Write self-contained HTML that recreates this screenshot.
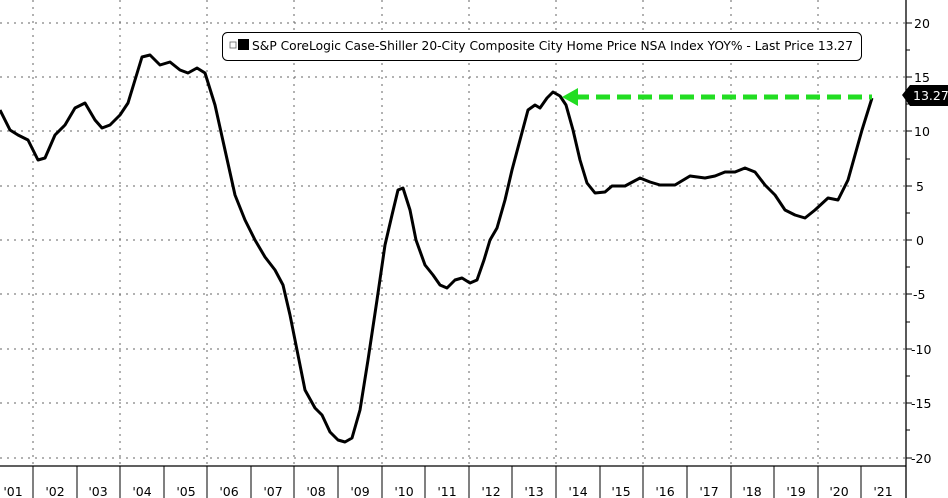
<!DOCTYPE html>
<html><head><meta charset="utf-8"><style>
html,body{margin:0;padding:0;background:#fff;width:948px;height:498px;overflow:hidden}
svg{display:block;font-family:"DejaVu Sans","Liberation Sans",sans-serif}
</style></head><body>
<svg width="948" height="498" viewBox="0 0 948 498" xmlns="http://www.w3.org/2000/svg">
<g stroke="#666" stroke-width="1" stroke-dasharray="2,5" fill="none">
<line x1="0" y1="23" x2="906" y2="23"/><line x1="0" y1="77" x2="906" y2="77"/>
<line x1="0" y1="131" x2="906" y2="131"/><line x1="0" y1="186" x2="906" y2="186"/>
<line x1="0" y1="240" x2="906" y2="240"/><line x1="0" y1="294" x2="906" y2="294"/>
<line x1="0" y1="349" x2="906" y2="349"/><line x1="0" y1="403" x2="906" y2="403"/>
<line x1="0" y1="458" x2="906" y2="458"/>
<line x1="33" y1="0" x2="33" y2="466"/><line x1="120" y1="0" x2="120" y2="466"/>
<line x1="207" y1="0" x2="207" y2="466"/><line x1="294" y1="0" x2="294" y2="466"/>
<line x1="382" y1="0" x2="382" y2="466"/><line x1="469" y1="0" x2="469" y2="466"/>
<line x1="556" y1="0" x2="556" y2="466"/><line x1="643" y1="0" x2="643" y2="466"/>
<line x1="731" y1="0" x2="731" y2="466"/><line x1="818" y1="0" x2="818" y2="466"/>
</g>
<g stroke="#000" stroke-width="1.3">
<line x1="0" y1="466" x2="906" y2="466"/><line x1="906" y1="0" x2="906" y2="498"/>
</g>
<g stroke="#000" stroke-width="1">
<line x1="33" y1="466" x2="33" y2="498"/><line x1="77" y1="466" x2="77" y2="498"/><line x1="120" y1="466" x2="120" y2="498"/><line x1="164" y1="466" x2="164" y2="498"/><line x1="207" y1="466" x2="207" y2="498"/><line x1="251" y1="466" x2="251" y2="498"/><line x1="294" y1="466" x2="294" y2="498"/><line x1="338" y1="466" x2="338" y2="498"/><line x1="382" y1="466" x2="382" y2="498"/><line x1="425" y1="466" x2="425" y2="498"/><line x1="469" y1="466" x2="469" y2="498"/><line x1="512" y1="466" x2="512" y2="498"/><line x1="556" y1="466" x2="556" y2="498"/><line x1="600" y1="466" x2="600" y2="498"/><line x1="643" y1="466" x2="643" y2="498"/><line x1="687" y1="466" x2="687" y2="498"/><line x1="731" y1="466" x2="731" y2="498"/><line x1="774" y1="466" x2="774" y2="498"/><line x1="818" y1="466" x2="818" y2="498"/><line x1="861" y1="466" x2="861" y2="498"/>
<line x1="906" y1="23" x2="912" y2="23"/><line x1="906" y1="50" x2="910" y2="50"/><line x1="906" y1="77" x2="912" y2="77"/><line x1="906" y1="104" x2="910" y2="104"/><line x1="906" y1="131" x2="912" y2="131"/><line x1="906" y1="159" x2="910" y2="159"/><line x1="906" y1="186" x2="912" y2="186"/><line x1="906" y1="213" x2="910" y2="213"/><line x1="906" y1="240" x2="912" y2="240"/><line x1="906" y1="267" x2="910" y2="267"/><line x1="906" y1="294" x2="912" y2="294"/><line x1="906" y1="322" x2="910" y2="322"/><line x1="906" y1="349" x2="912" y2="349"/><line x1="906" y1="376" x2="910" y2="376"/><line x1="906" y1="403" x2="912" y2="403"/><line x1="906" y1="430" x2="910" y2="430"/><line x1="906" y1="458" x2="912" y2="458"/>
</g>
<g font-size="12.5" fill="#000">
<text x="914" y="28">20</text><text x="914" y="82">15</text><text x="914" y="136">10</text><text x="916" y="191">5</text><text x="916" y="245">0</text><text x="913" y="299">-5</text><text x="911" y="354">-10</text><text x="911" y="408">-15</text><text x="911" y="463">-20</text>
</g>
<g font-size="12.5" fill="#000" text-anchor="middle">
<text x="13" y="496">'01</text><text x="55" y="496">'02</text><text x="98" y="496">'03</text><text x="142" y="496">'04</text><text x="186" y="496">'05</text><text x="229" y="496">'06</text><text x="273" y="496">'07</text><text x="316" y="496">'08</text><text x="360" y="496">'09</text><text x="404" y="496">'10</text><text x="447" y="496">'11</text><text x="491" y="496">'12</text><text x="534" y="496">'13</text><text x="578" y="496">'14</text><text x="621" y="496">'15</text><text x="665" y="496">'16</text><text x="709" y="496">'17</text><text x="752" y="496">'18</text><text x="796" y="496">'19</text><text x="839" y="496">'20</text><text x="883" y="496">'21</text>
</g>
<polyline fill="none" stroke="#000" stroke-width="3" stroke-linejoin="round" points="0,110 10,130 18,135 28,140 38,160 45,158 55,135 65,125 75,108 85,103 95,120 102,128 110,125 120,115 128,103 135,80 142,57 150,55 160,65 170,62 180,70 188,73 197,68 205,73 215,105 225,150 235,195 245,220 255,240 265,257 275,270 283,285 290,315 297,350 305,390 315,408 322,415 330,432 338,440 345,442 352,438 360,410 368,360 377,300 385,245 392,215 398,190 403,188 410,210 416,240 425,265 433,275 440,285 447,288 455,280 462,278 470,283 477,280 484,260 490,240 497,228 505,200 512,170 520,140 528,110 535,105 540,108 547,98 553,92 560,96 566,105 573,130 580,160 587,183 595,193 605,192 612,186 625,186 640,178 650,182 660,185 675,185 690,176 705,178 715,176 725,172 735,172 745,168 755,172 765,185 775,195 785,210 795,215 805,218 815,210 828,198 838,200 848,180 855,155 862,130 872,98"/>
<line x1="575" y1="97" x2="872" y2="97" stroke="#22dd22" stroke-width="5" stroke-dasharray="14,7"/>
<polygon points="562,97 578,88 578,106" fill="#22dd22"/>
<polygon points="902,95 910,85 948,85 948,106 910,106" fill="#000"/>
<text x="913" y="100" font-size="12.5" fill="#fff">13.27</text>
<rect x="222.5" y="32.5" width="639" height="28" rx="5" fill="#fff" stroke="#000"/>
<rect x="230" y="42" width="6" height="6" fill="none" stroke="#666" stroke-width="0.8"/>
<rect x="238" y="39" width="11" height="11" fill="#000"/>
<text x="252" y="50" font-size="12.5" fill="#000" textLength="601" lengthAdjust="spacingAndGlyphs">S&amp;P CoreLogic Case-Shiller 20-City Composite City Home Price NSA Index YOY% - Last Price 13.27</text>
</svg>
</body></html>
